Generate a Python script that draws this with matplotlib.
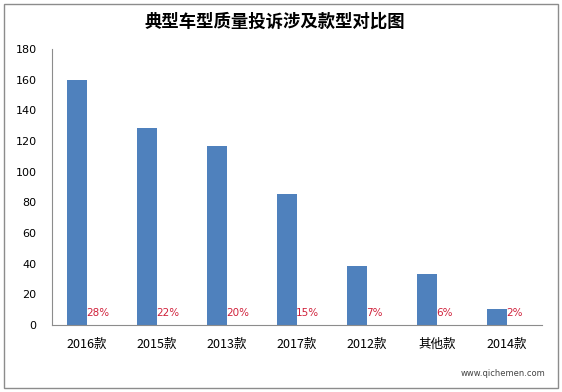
import matplotlib
matplotlib.use("Agg")
import matplotlib.pyplot as plt
from matplotlib.patches import Rectangle

plt.rcParams['font.family'] = ['Noto Sans CJK SC', 'DejaVu Sans']

categories = ["2016款", "2015款", "2013款", "2017款", "2012款", "其他款", "2014款"]
counts = [160, 128.5, 117, 85.5, 38.5, 33, 10.5]
shares = ["28%", "22%", "20%", "15%", "7%", "6%", "2%"]
y_ticks = [0, 20, 40, 60, 80, 100, 120, 140, 160, 180]
title = "典型车型质量投诉涉及款型对比图"

fig = plt.figure(figsize=(5.62, 3.92), dpi=100)
fig.patch.set_facecolor('white')
# outer frame
fig.add_artist(Rectangle((4/562, 4/392), 554/562, 384/392, transform=fig.transFigure,
                         fill=False, edgecolor='#8c8c8c', linewidth=1.0))

ax = fig.add_axes([52/562, 1-325/392, 490/562, 276/392])
x = list(range(len(categories)))
w = 0.29
ax.bar([i - w/2 for i in x], counts, width=w, color='#4F81BD', zorder=2)
for i, s in zip(x, shares):
    ax.text(i - 0.01, 8.0, s, color='#d0203a', fontsize=7.5, ha='left', va='center',
            family=['DejaVu Sans'])

ax.set_xlim(-0.5, len(categories) - 0.5)
ax.set_ylim(0, 180)
ax.set_yticks(y_ticks)
ax.set_yticklabels([str(v) for v in y_ticks], fontsize=8, family=['DejaVu Sans'])
ax.set_xticks(x)
ax.set_xticklabels(categories, fontsize=9)
ax.tick_params(axis='both', length=0)
ax.tick_params(axis='y', pad=11)
ax.tick_params(axis='x', pad=9)
for side in ['top', 'right']:
    ax.spines[side].set_visible(False)
for side in ['left', 'bottom']:
    ax.spines[side].set_color('#8c8c8c')
    ax.spines[side].set_linewidth(0.8)

fig.text(275/562, 1-22/392, title, ha='center', va='center', fontsize=12.5, fontweight='bold')
fig.text(545/562, 1-374/392, "www.qichemen.com", ha='right', va='center', fontsize=6,
         color='#444444', family=['DejaVu Sans'])

fig.savefig("out.png", dpi=100)
